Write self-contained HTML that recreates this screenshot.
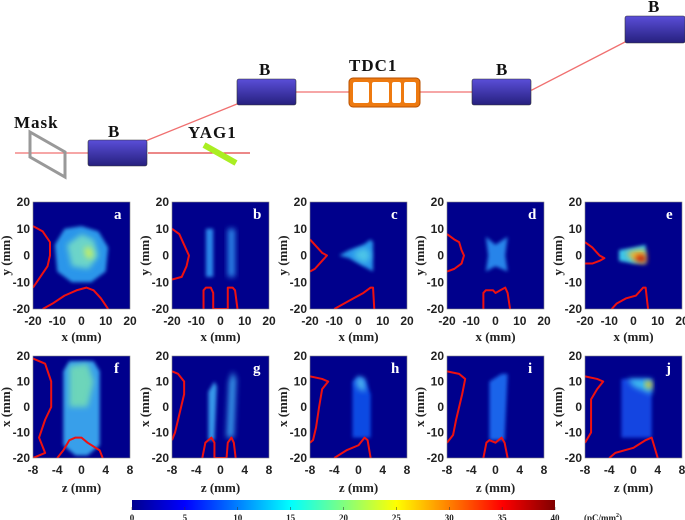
<!DOCTYPE html>
<html><head><meta charset="utf-8"><style>
html,body{margin:0;padding:0;background:#fff;}
svg{display:block;}
.tk{font-family:"Liberation Sans",sans-serif;font-weight:bold;font-size:12px;fill:#222;}
.al{font-family:"Liberation Serif",serif;font-weight:bold;font-size:13px;fill:#222;}
.sl{font-family:"Liberation Serif",serif;font-weight:bold;font-size:15px;fill:#111;}
.sch{font-family:"Liberation Serif",serif;font-weight:bold;font-size:17px;fill:#111;letter-spacing:1px;}
.cb{font-family:"Liberation Serif",serif;font-weight:bold;font-size:9px;fill:#222;}
</style></head><body>
<svg id="fig" width="685" height="520" viewBox="0 0 685 520" xmlns="http://www.w3.org/2000/svg">
<defs>
<filter id="bl" x="-50%" y="-50%" width="200%" height="200%"><feGaussianBlur stdDeviation="1.8"/></filter>
<filter id="bl2" x="-50%" y="-50%" width="200%" height="200%"><feGaussianBlur stdDeviation="3"/></filter>
<linearGradient id="bgrad" x1="0" y1="0" x2="0" y2="1"><stop offset="0" stop-color="#5a4ed8"/><stop offset="1" stop-color="#26207e"/></linearGradient>
<linearGradient id="jet" x1="0" y1="0" x2="1" y2="0">
<stop offset="0" stop-color="#00008f"/><stop offset="0.125" stop-color="#0000ff"/><stop offset="0.375" stop-color="#00ffff"/><stop offset="0.625" stop-color="#ffff00"/><stop offset="0.875" stop-color="#ff0000"/><stop offset="1" stop-color="#800000"/></linearGradient>
</defs>

<g>
<polyline points="15,153 118,153 148,140 237,104 267,92 472,92 502,92 532,90 625,42 655,30" fill="none" stroke="#f07070" stroke-width="1.3"/>
<line x1="148" y1="153" x2="250" y2="153" stroke="#e04040" stroke-width="1.3"/>
<polygon points="30,132 65,152 65,177 30,157" fill="none" stroke="#999" stroke-width="3"/>
<text class="sch" x="14" y="128">Mask</text>
<rect x="88" y="140" width="59" height="26" rx="2" fill="url(#bgrad)" stroke="#333" stroke-width="0.6"/>
<text class="sch" x="108" y="137">B</text>
<line x1="204" y1="145" x2="236" y2="163" stroke="#aaee22" stroke-width="6"/>
<text class="sch" x="188" y="138">YAG1</text>
<rect x="237" y="79" width="59" height="26" rx="2" fill="url(#bgrad)" stroke="#333" stroke-width="0.6"/>
<text class="sch" x="259" y="75">B</text>
<rect x="349" y="78" width="71" height="29" rx="4" fill="#ee7a10" stroke="#b85000" stroke-width="1"/>
<g fill="#fff">
<rect x="353" y="82" width="16" height="21" rx="2"/><rect x="372" y="82" width="17" height="21" rx="2"/><rect x="392" y="82" width="9" height="21" rx="2"/><rect x="404" y="82" width="12" height="21" rx="2"/>
</g>
<text class="sch" x="349" y="71">TDC1</text>
<rect x="472" y="79" width="59" height="26" rx="2" fill="url(#bgrad)" stroke="#333" stroke-width="0.6"/>
<text class="sch" x="496" y="75">B</text>
<rect x="625" y="16" width="60" height="27" rx="2" fill="url(#bgrad)" stroke="#333" stroke-width="0.6"/>
<text class="sch" x="648" y="12">B</text>
</g>

<g id="panels"></g>

<g>
<rect x="132" y="500" width="423" height="10" fill="url(#jet)"/>
<g id="cbticks"></g>
<text class="cb" x="584" y="521">(pC/mm<tspan font-size="6" dy="-4">2</tspan><tspan dy="4">)</tspan></text>
</g>
</svg>
<script>
const NS="http://www.w3.org/2000/svg";
const panelIds=["a","b","c","d","e","f","g","h","i","j"];
const xyTicks=[-20,-10,0,10,20];
const zTicks=[-8,-4,0,4,8];
const cbTicks=[0,5,10,15,20,25,30,35,40];
const shapeA=[[[[-11,4],[-7,10],[0,11],[7,9],[11,3],[10,-6],[4,-10],[-4,-10],[-10,-6]],"#2f9ff0"],[[[-6,4],[0,8],[5,6],[7,0],[3,-5],[-4,-4]],"#6fd8c8"],[[[1,3],[4,3],[5,-1],[2,-1]],"#c8f060"]];
const shapeB=[[[[-6,10],[-3,10],[-3,-8],[-6,-8]],"#2f8ff0"],[[[3,10],[6,10],[6,-8],[3,-8]],"#2f8ff0"]];
const shapeC=[[[[-8,0],[-4,2],[2,4],[5,6],[6,5],[6,-6],[2,-4],[-4,-1]],"#2a9cf0"],[[[-2,1],[3,3],[5,0],[3,-3],[-1,-1]],"#50c8e8"]];
const shapeD=[[[[-4,7],[0,4],[5,7],[4,0],[5,-6],[0,-4],[-4,-6],[-3,0]],"#2c8cf0"]];
const shapeE=[[[[-6,2],[0,3],[5,4],[5,-3],[0,-3],[-6,-2]],"#40d0f0"],[[[-3,1],[2,2],[5,2],[5,-3],[0,-2]],"#ffc020"],[[[1,0],[5,0],[5,-2.5],[1,-2]],"#c00000"]];
const shapeF=[[[[-3,14],[-2,18],[2,18],[3,14],[3,-15],[1,-19],[-1,-19],[-3,-15]],"#3aa8f0"],[[[-2,16],[1,17],[2,10],[1,0],[-2,0]],"#70d8b8"]];
const shapeG=[[[[-2,-13],[-2,6],[-1,10],[-0.6,8],[-1,-13]],"#3aa0f0"],[[[1,-12],[1.4,10],[2,14],[2.6,11],[2.2,-12]],"#3aa0f0"]];
const shapeH=[[[[-1,10],[0,12],[1,11],[2,5],[2,-12],[-1,-12]],"#1050e8"],[[[-0.5,10],[0,12],[1,11],[1.2,6],[0,7]],"#50b8f0"]];
const shapeI=[[[[-1,10],[1,13],[2,13],[1.5,-13],[-1,-13]],"#1a6af0"]];
const shapeJ=[[[[-2,11],[3,11],[3,-12],[-2,-12]],"#1248e6"],[[[-1,11],[3,11],[3,5],[0,8]],"#40c0f0"],[[[2,10],[3,10],[3,7],[2,8]],"#ffd000"]];
const shapes=[shapeA,shapeB,shapeC,shapeD,shapeE,shapeF,shapeG,shapeH,shapeI,shapeJ];
const leftA=[[-20,11],[-16,9],[-13,5],[-13,0],[-14,-4],[-17,-8],[-20,-12]];
const botA=[[-16,-20],[-12,-18],[-7,-15],[-2,-13],[2,-12],[5,-13],[8,-16],[11,-20]];
const leftB=[[-20,10],[-17,8],[-15,4],[-13,0],[-14,-4],[-16,-8],[-20,-9]];
const botB=[[-7,-20],[-7,-13],[-6,-12],[-4,-12],[-3,-14],[-3,-20],[3,-20],[3,-14],[3,-12],[5,-12],[6,-13],[7,-20]];
const leftC=[[-20,6],[-18,4],[-15,1],[-13,0],[-15,-2],[-18,-5],[-20,-6]];
const botC=[[-10,-20],[-6,-18],[-2,-16],[2,-14],[5,-12],[6,-12],[6.5,-20]];
const leftD=[[-20,8],[-17,6],[-15,5],[-14,2],[-13,0],[-14,-3],[-17,-5],[-20,-6]];
const botD=[[-5,-20],[-5,-14],[-4,-13],[-1,-13],[0,-14],[2,-13],[4,-12],[5,-14],[6,-20]];
const leftE=[[-20,5],[-17,3],[-14,0],[-12,-1],[-14,-2],[-17,-3],[-20,-3]];
const botE=[[-9,-20],[-7,-18],[-3,-16],[1,-15],[4,-12],[5,-12],[6,-20]];
const leftF=[[-8,19],[-6,17],[-5,10],[-5,0],[-6,-5],[-7,-12],[-6,-18],[-8,-20]];
const botF=[[-4,-20],[-3,-17],[-2,-13],[-1,-12],[0,-12],[1,-14],[3,-17],[3.5,-20]];
const leftG=[[-8,14],[-7,13],[-6,10],[-6,5],[-7,-5],[-7.5,-10],[-8,-13]];
const botG=[[-3,-20],[-2.5,-14],[-1.5,-12],[-1,-14],[-1,-20],[1,-20],[1.2,-14],[1.8,-12],[2.2,-14],[2.5,-20]];
const leftH=[[-8,12],[-6,11],[-5,10],[-6,7],[-6.5,0],[-7,-8],[-7.5,-13],[-8,-14]];
const botH=[[-4,-20],[-2,-17],[0,-15],[1,-12],[1.5,-13],[2,-20]];
const leftI=[[-8,14],[-6,13],[-5,11],[-5.5,5],[-6.5,-5],[-7,-11],[-8,-14]];
const botI=[[-2,-20],[-1.5,-14],[-1,-13],[0,-14],[1,-12],[1.5,-14],[2,-20]];
const leftJ=[[-8,12],[-6,11],[-5,10],[-6,7],[-7,3],[-7,-3],[-7,-10],[-8,-14]];
const botJ=[[-4,-20],[-3,-18],[0,-16],[2,-13],[3,-12],[4,-20]];
const lefts=[leftA,leftB,leftC,leftD,leftE,leftF,leftG,leftH,leftI,leftJ];
const bots=[botA,botB,botC,botD,botE,botF,botG,botH,botI,botJ];

function mk(tag,attrs,parent){const e=document.createElementNS(NS,tag);for(const k in attrs)e.setAttribute(k,attrs[k]);parent.appendChild(e);return e;}
const root=document.getElementById("panels");
const colX=[33,172,310,447,585], W=97;
panelIds.forEach((id,i)=>{
  const row=i<5?0:1, col=i%5;
  const L=colX[col], T=row?356:202, B=row?458:309;
  const xmin=row?-8:-20, xmax=row?8:20;
  const sx=v=>L+(v-xmin)/(xmax-xmin)*W;
  const sy=v=>B-(v+20)/40*(B-T);
  const g=mk("g",{},root);
  
  
  const cid="clip"+id;
  const cp=mk("clipPath",{id:cid},g); mk("rect",{x:L,y:T,width:W,height:B-T},cp);
  const bg=mk("rect",{x:L,y:T,width:W,height:B-T,fill:"#00008c"},g);
  
  
  const ig=mk("g",{"clip-path":"url(#"+cid+")"},g);
  shapes[i].forEach((ly,k)=>{
    const p=mk("polygon",{points:ly[0].map(q=>sx(q[0])+","+sy(q[1])).join(" "),fill:ly[1],filter:k===0?"url(#bl)":"url(#bl2)",opacity:0.95},ig);
    
    
  });
  [lefts[i],bots[i]].forEach((arr,k)=>{
    const pl=mk("polyline",{points:arr.map(q=>sx(q[0])+","+sy(q[1])).join(" "),fill:"none",stroke:"#ee1111","stroke-width":2,"stroke-linejoin":"round"},ig);
    
    
  });
  const fr=mk("rect",{x:L,y:T,width:W,height:B-T,fill:"none",stroke:"#888","stroke-width":0.6},g);
  
  
  const lt=mk("text",{x:L+W-16,y:T+17,class:"sl",fill:"#fff"},g); lt.style.fill="#fff"; lt.textContent=id;
  
  
  xyTicks.forEach(v=>{
    const t=mk("text",{x:L-3,y:sy(v)+4,class:"tk","text-anchor":"end"},g); t.textContent=v;
    
    
  });
  (row?zTicks:xyTicks).forEach(v=>{
    const t=mk("text",{x:sx(v),y:B+16,class:"tk","text-anchor":"middle"},g); t.textContent=v;
    
    
  });
  const xl=mk("text",{x:L+W/2,y:row?492:341,class:"al","text-anchor":"middle"},g); xl.textContent=row?"z (mm)":"x (mm)";
  
  
  const yx=L-23, yy=(T+B)/2;
  const yl=mk("text",{x:yx,y:yy,class:"al","text-anchor":"middle",transform:"rotate(-90 "+yx+" "+yy+")"},g); yl.textContent=row?"x (mm)":"y (mm)";
  
  
});
const cbg=document.getElementById("cbticks");
cbTicks.forEach(v=>{
  const x=132+v/40*423;
  const tl=mk("line",{x1:x,y1:507,x2:x,y2:510,stroke:"#333","stroke-width":0.5},cbg);
  
  
  const t=mk("text",{x:x,y:521,class:"cb","text-anchor":"middle"},cbg); t.textContent=v;
  
  
});
</script>
</body></html>
